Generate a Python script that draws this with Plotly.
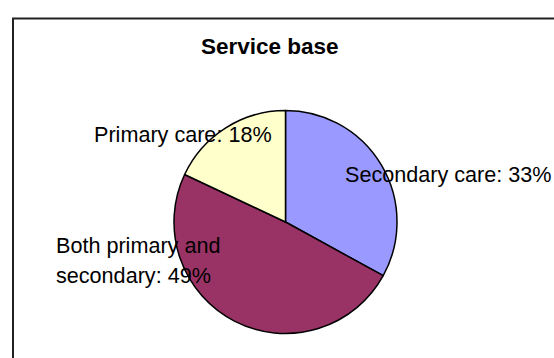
import plotly.graph_objects as go

# Service base breakdown (percent of services)
categories = ["Secondary care", "Both primary and secondary", "Primary care"]
shares = [33, 49, 18]
colors = ["#9999FF", "#993366", "#FFFFCC"]

# Label lines for each slice (text split where the label wraps)
label_lines = {
    "Secondary care": ["Secondary care: {v}%"],
    "Both primary and secondary": ["Both primary and", "secondary: {v}%"],
    "Primary care": ["Primary care: {v}%"],
}

W, H = 554, 358
FONT = "Liberation Sans, Arial, sans-serif"

fig = go.Figure(
    go.Pie(
        labels=categories,
        values=shares,
        sort=False,
        direction="clockwise",
        rotation=0,
        marker=dict(colors=colors, line=dict(color="#000000", width=1.5)),
        textinfo="none",
        hoverinfo="label+percent",
        domain=dict(x=[174 / W, 397 / W], y=[1 - 333.5 / H, 1 - 110.5 / H]),
        showlegend=False,
    )
)

# label anchor points (left edge x, vertical middle y of each line) in pixels
label_pos = {
    "Secondary care": [(344, 174.5)],
    "Both primary and secondary": [(55, 245.5), (55, 275.5)],
    "Primary care": [(93, 134)],
}

annotations = []
for cat, val in zip(categories, shares):
    for line, (px, py) in zip(label_lines[cat], label_pos[cat]):
        annotations.append(
            dict(
                text=line.format(v=val),
                x=px / W,
                y=1 - py / H,
                xref="paper",
                yref="paper",
                xanchor="left",
                yanchor="middle",
                showarrow=False,
                borderpad=0,
                font=dict(family=FONT, size=21.6, color="#000000"),
            )
        )

annotations.append(
    dict(
        text="<b>Service base</b>",
        x=270 / W,
        y=1 - 46.5 / H,
        xref="paper",
        yref="paper",
        xanchor="center",
        yanchor="middle",
        showarrow=False,
        font=dict(family=FONT, size=22.5, color="#000000"),
    )
)

fig.update_layout(
    width=W,
    height=H,
    margin=dict(l=0, r=0, t=0, b=0),
    paper_bgcolor="#FFFFFF",
    plot_bgcolor="#FFFFFF",
    annotations=annotations,
    shapes=[
        dict(
            type="rect",
            xref="paper",
            yref="paper",
            x0=13 / W,
            x1=1.05,
            y0=-0.05,
            y1=1 - 18.5 / H,
            line=dict(color="#222222", width=2),
            fillcolor="rgba(0,0,0,0)",
            layer="below",
        )
    ],
)

fig.write_html("out.html")
